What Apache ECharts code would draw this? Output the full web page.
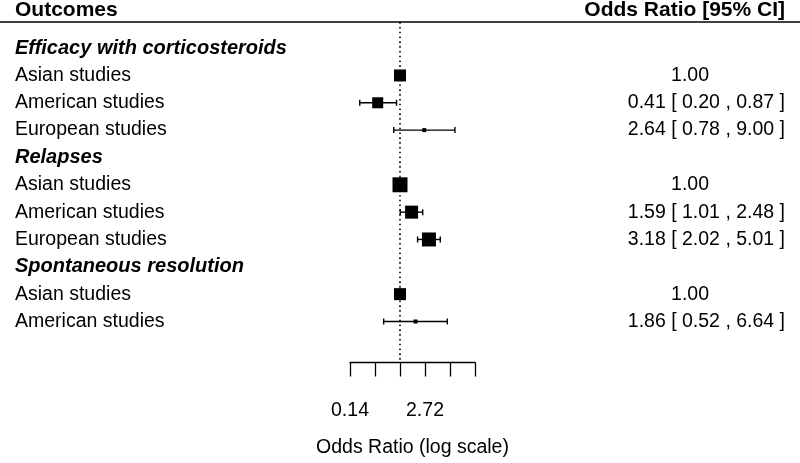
<!DOCTYPE html>
<html>
<head>
<meta charset="utf-8">
<script src="https://cdn.jsdelivr.net/npm/echarts@6/dist/echarts.min.js"></script>
<style>html,body{margin:0;padding:0;background:#fff}#c{width:800px;height:463px}</style>
</head>
<body>
<div id="c"></div>
<script>
// ---- data ----
const rowLabels = ['Efficacy with corticosteroids', 'Asian studies', 'American studies', 'European studies',
  'Relapses', 'Asian studies', 'American studies', 'European studies',
  'Spontaneous resolution', 'Asian studies', 'American studies'];
const isHeader = [true, false, false, false, true, false, false, false, true, false, false];
const oddsRatio = [null, 1.00, 0.41, 2.64, null, 1.00, 1.59, 3.18, null, 1.00, 1.86];
const ciLower   = [null, null, 0.20, 0.78, null, null, 1.01, 2.02, null, null, 0.52];
const ciUpper   = [null, null, 0.87, 9.00, null, null, 2.48, 5.01, null, null, 6.64];
const weights   = [null, 12, 11, 4, null, 15, 13, 14, null, 12, 4];
const tickValues = [-2, 1];
const tickLabels = ['0.14', '2.72'];

const FONT = 'Liberation Sans, Arial, sans-serif';
const fmt = v => v.toFixed(2);
const annot = rowLabels.map((_, i) => {
  if (oddsRatio[i] == null) return '';
  if (ciLower[i] == null) return '{s|' + fmt(oddsRatio[i]) + '}';
  return '{n|' + fmt(oddsRatio[i]) + ' [ ' + fmt(ciLower[i]) + ' , ' + fmt(ciUpper[i]) + ' ]}';
});

const forestData = [];
rowLabels.forEach((_, i) => {
  if (oddsRatio[i] == null) return;
  forestData.push([i, Math.log(oddsRatio[i]),
    ciLower[i] == null ? NaN : Math.log(ciLower[i]),
    ciUpper[i] == null ? NaN : Math.log(ciUpper[i]),
    weights[i]]);
});

const chart = echarts.init(document.getElementById('c'), null, {renderer: 'canvas'});
const yCommon = {
  type: 'value', inverse: true, min: -1, max: 11.5, interval: 1,
  axisLine: {show: false}, axisTick: {show: false}, splitLine: {show: false}
};
chart.setOption({
  animation: false,
  backgroundColor: '#fff',
  grid: {left: 350, right: 325, top: 20.75, bottom: 100.5},
  xAxis: {
    type: 'value', min: -2, max: 3, interval: 1, position: 'bottom',
    axisLine: {show: true, onZero: false, lineStyle: {color: '#000', width: 1.3}},
    axisTick: {show: true, length: 14, lineStyle: {color: '#000', width: 1.3}},
    splitLine: {show: false},
    axisLabel: {
      margin: 38, color: '#000', fontFamily: FONT, fontSize: 19.5,
      formatter: v => { const k = tickValues.indexOf(v); return k >= 0 ? tickLabels[k] : ''; }
    },
    name: 'Odds Ratio (log scale)', nameLocation: 'middle', nameGap: 75,
    nameTextStyle: {color: '#000', fontFamily: FONT, fontSize: 19.5}
  },
  yAxis: [
    Object.assign({}, yCommon, {
      position: 'left',
      axisLabel: {
        align: 'left', margin: 335, color: '#000',
        formatter: v => Number.isInteger(v) && v >= 0 && v < rowLabels.length
          ? (isHeader[v] ? '{h|' + rowLabels[v] + '}' : '{n|' + rowLabels[v] + '}') : '',
        rich: {
          h: {fontFamily: FONT, fontSize: 20, fontWeight: 'bold', fontStyle: 'italic', color: '#000'},
          n: {fontFamily: FONT, fontSize: 19.5, color: '#000'}
        }
      }
    }),
    Object.assign({}, yCommon, {
      position: 'right',
      axisLabel: {
        align: 'right', margin: 310, color: '#000',
        formatter: v => Number.isInteger(v) && v >= 0 && v < annot.length ? annot[v] : '',
        rich: {
          n: {fontFamily: FONT, fontSize: 19.5, color: '#000'},
          s: {fontFamily: FONT, fontSize: 19.5, color: '#000', padding: [0, 76, 0, 0]}
        }
      }
    })
  ],
  graphic: [
    {type: 'line', shape: {x1: 0, y1: 22, x2: 800, y2: 22}, style: {stroke: '#000', lineWidth: 1.5}, z: 10},
    {type: 'text', x: 15, y: 10, style: {text: 'Outcomes', font: 'bold 21px ' + FONT, fill: '#000', verticalAlign: 'middle', textVerticalAlign: 'middle'}},
    {type: 'text', x: 785, y: 10, style: {text: 'Odds Ratio [95% CI]', font: 'bold 21px ' + FONT, fill: '#000', align: 'right', textAlign: 'right', verticalAlign: 'middle', textVerticalAlign: 'middle'}}
  ],
  series: [
    {
      type: 'line', xAxisIndex: 0, yAxisIndex: 0, data: [[0, -0.95], [0, 11.5]],
      symbol: 'none', lineStyle: {color: '#000', width: 1.6, type: [1.6, 3.2]}, z: 1, silent: true
    },
    {
      type: 'custom', xAxisIndex: 0, yAxisIndex: 0, data: forestData, z: 3,
      encode: {x: 1, y: 0},
      renderItem: (params, api) => {
        const row = api.value(0);
        const c = api.coord([api.value(1), row]);
        const lo = api.value(2), hi = api.value(3);
        const s = api.value(4);
        const children = [];
        if (!isNaN(lo)) {
          const pl = api.coord([lo, row]), ph = api.coord([hi, row]);
          const st = {stroke: '#000', lineWidth: 1.4};
          children.push({type: 'line', shape: {x1: pl[0], y1: c[1], x2: ph[0], y2: c[1]}, style: st});
          children.push({type: 'line', shape: {x1: pl[0], y1: c[1] - 3, x2: pl[0], y2: c[1] + 3}, style: st});
          children.push({type: 'line', shape: {x1: ph[0], y1: c[1] - 3, x2: ph[0], y2: c[1] + 3}, style: st});
        }
        children.push({type: 'rect', shape: {x: c[0] - s / 2, y: c[1] - s / 2, width: s, height: s}, style: {fill: '#000'}});
        return {type: 'group', children};
      }
    }
  ]
});
</script>
</body>
</html>
